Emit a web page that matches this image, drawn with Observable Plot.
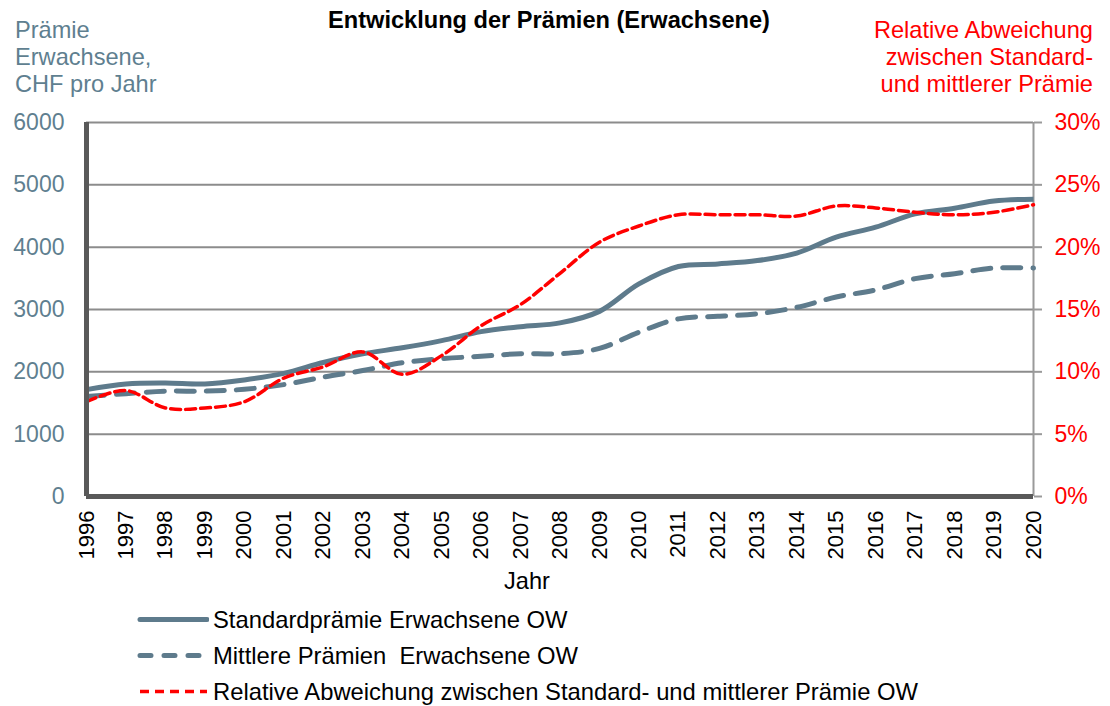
<!DOCTYPE html>
<html>
<head>
<meta charset="utf-8">
<script src="https://cdn.jsdelivr.net/npm/d3@7"></script>
<script src="https://cdn.jsdelivr.net/npm/@observablehq/plot@0.6"></script>
<style>
  html, body { margin: 0; padding: 0; background: #fff; }
  #wrap { position: relative; width: 1110px; height: 706px; font-family: "Liberation Sans", Arial, sans-serif; overflow: hidden; }
  #chart { position: absolute; left: 0; top: 0; }
  .t { position: absolute; font-size: 23.6px; line-height: 27px; white-space: nowrap; }
  .leg { position: absolute; left: 137px; display: flex; align-items: center; font-size: 23.8px; line-height: 27px; white-space: pre; color: #000; }
  .leg svg { display: block; margin-right: 4px; }
</style>
</head>
<body>
<div id="wrap">
  <div id="chart"></div>
  <div class="t" style="left:0;width:1098px;text-align:center;top:7px;font-weight:bold;color:#000;">Entwicklung der Prämien (Erwachsene)</div>
  <div class="t" style="left:15px;top:17px;color:#5F7F90;">Prämie<br>Erwachsene,<br>CHF pro Jahr</div>
  <div class="t" style="right:17px;top:17px;color:#FF0000;text-align:right;">Relative Abweichung<br>zwischen Standard-<br>und mittlerer Prämie</div>
  <div class="t" style="left:0;width:1054px;text-align:center;top:568px;color:#000;">Jahr</div>
  <div id="legend"></div>
</div>
<script>
// ---- data ----
const years = [1996, 1997, 1998, 1999, 2000, 2001, 2002, 2003, 2004, 2005, 2006, 2007, 2008,
               2009, 2010, 2011, 2012, 2013, 2014, 2015, 2016, 2017, 2018, 2019, 2020];
const standardPraemie = [1715, 1805, 1820, 1805, 1870, 1975, 2150, 2290, 2385, 2500, 2645, 2725, 2785,
                         2970, 3410, 3690, 3730, 3785, 3905, 4160, 4320, 4535, 4625, 4740, 4770];
const mittlerePraemie = [1605, 1650, 1690, 1690, 1720, 1795, 1915, 2020, 2145, 2210, 2250, 2290, 2290,
                         2375, 2635, 2850, 2890, 2930, 3035, 3200, 3315, 3495, 3575, 3665, 3665];
const relativeAbweichung = [7.6, 8.5, 7.1, 7.1, 7.6, 9.5, 10.4, 11.6, 9.8, 11.3, 13.7, 15.4, 17.9,
                            20.4, 21.7, 22.6, 22.6, 22.6, 22.5, 23.3, 23.15, 22.8, 22.6, 22.8, 23.4];
const leftTicks = [0, 1000, 2000, 3000, 4000, 5000, 6000];
const rightTickLabels = ["0%", "5%", "10%", "15%", "20%", "25%", "30%"];
const seriesNames = [
  "Standardprämie Erwachsene OW",
  "Mittlere Prämien  Erwachsene OW",
  "Relative Abweichung zwischen Standard- und mittlerer Prämie OW"
];

const slate = "#5E7B8C";
const red = "#FF0000";
const pctToLeft = 6000 / 30; // 30% maps to 6000 on the shared y scale

const rows = years.map((y, i) => ({
  year: y,
  standard: standardPraemie[i],
  mittlere: mittlerePraemie[i],
  rel: relativeAbweichung[i] * pctToLeft
}));

const chart = Plot.plot({
  width: 1110,
  height: 600,
  marginLeft: 86,
  marginRight: 77,
  marginTop: 122,
  marginBottom: 104,
  style: { fontFamily: "'Liberation Sans', Arial, sans-serif", background: "transparent", overflow: "visible" },
  x: { domain: [1996, 2020] },
  y: { domain: [0, 6000] },
  marks: [
    Plot.ruleY(leftTicks.filter(d => d > 0), { stroke: "#8C8C8C", strokeWidth: 2 }),
    Plot.ruleX([2020], { stroke: "#9A9A9A", strokeWidth: 2 }),
    Plot.axisY({ anchor: "left", ticks: leftTicks, tickSize: 0, tickPadding: 22, color: "#5F7F90", fontSize: 23, label: null, tickFormat: d => String(d) }),
    Plot.axisY({ anchor: "right", ticks: leftTicks, tickSize: 8, tickPadding: 13, color: "#9A9A9A", strokeWidth: 2, fontSize: 23, label: null, tickFormat: () => "" }),
    Plot.axisY({ anchor: "right", ticks: leftTicks, tickSize: 0, tickPadding: 21, color: red, fontSize: 23, label: null, tickFormat: d => rightTickLabels[leftTicks.indexOf(d)] }),
    Plot.axisX({ anchor: "bottom", ticks: years, tickSize: 0, tickPadding: 14, tickRotate: -90, color: "#000", fontSize: 22, label: null, tickFormat: d => String(d) }),
    Plot.lineY(rows, { x: "year", y: "mittlere", stroke: slate, strokeWidth: 5, strokeDasharray: "18,12", strokeLinecap: "round", curve: "catmull-rom" }),
    Plot.lineY(rows, { x: "year", y: "standard", stroke: slate, strokeWidth: 5, strokeLinecap: "butt", curve: "catmull-rom" }),
    Plot.lineY(rows, { x: "year", y: "rel", stroke: red, strokeWidth: 3.5, strokeDasharray: "10,5", curve: "catmull-rom" }),
    Plot.ruleX([1996], { stroke: "#595959", strokeWidth: 5 }),
    Plot.ruleY([0], { stroke: "#595959", strokeWidth: 5 })
  ]
});
document.getElementById("chart").appendChild(chart);

// ---- legend ----
const legendSpecs = [
  { stroke: slate, width: 5, dash: null, cap: "round", top: 606 },
  { stroke: slate, width: 5, dash: "11,13", cap: "round", top: 642 },
  { stroke: red, width: 3.5, dash: "9,6", cap: "butt", top: 678 }
];
const legend = document.getElementById("legend");
legendSpecs.forEach((s, i) => {
  const row = document.createElement("div");
  row.className = "leg";
  row.style.top = s.top + "px";
  row.innerHTML =
    `<svg width="72" height="27"><line x1="3" x2="70" y1="13.5" y2="13.5" stroke="${s.stroke}" stroke-width="${s.width}"` +
    (s.dash ? ` stroke-dasharray="${s.dash}"` : "") + ` stroke-linecap="${s.cap}"/></svg><span>${seriesNames[i]}</span>`;
  legend.appendChild(row);
});
</script>
</body>
</html>
